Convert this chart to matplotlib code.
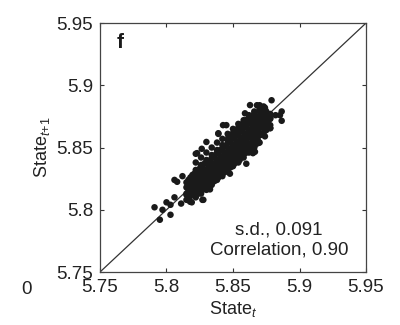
import matplotlib
matplotlib.use('Agg')
import matplotlib.pyplot as plt

plt.rcParams['font.family'] = ['Liberation Sans', 'DejaVu Sans']
plt.rcParams['mathtext.fontset'] = 'custom'
plt.rcParams['mathtext.it'] = 'Liberation Sans:italic'
plt.rcParams['mathtext.rm'] = 'Liberation Sans'

# outlying points
edge_x = [5.791, 5.795, 5.797, 5.803, 5.803, 5.808, 5.812, 5.819, 5.827, 5.822,
          5.8265, 5.839, 5.845, 5.859, 5.868, 5.879, 5.8866, 5.8866, 5.878, 5.8665,
          5.860, 5.8477, 5.8327, 5.815, 5.800, 5.806, 5.811, 5.873, 5.882, 5.876,
          5.8628, 5.8853, 5.878, 5.878, 5.869, 5.865, 5.855, 5.839, 5.830, 5.823,
          5.8277, 5.8177, 5.806, 5.8425, 5.870]
edge_y = [5.802, 5.792, 5.800, 5.796, 5.804, 5.8225, 5.827, 5.806, 5.808, 5.845,
          5.849, 5.861, 5.868, 5.8775, 5.884, 5.888, 5.879, 5.8715, 5.8655, 5.8466,
          5.837, 5.829, 5.8164, 5.813, 5.806, 5.810, 5.805, 5.883, 5.876, 5.870,
          5.8841, 5.876, 5.8737, 5.8657, 5.8536, 5.8455, 5.840, 5.8615, 5.8545, 5.8455,
          5.808, 5.8065, 5.824, 5.868, 5.884]

# dense core, column by column
core_x = [5.815, 5.815, 5.815, 5.815,
          5.818, 5.818, 5.818, 5.818,
          5.821, 5.821, 5.821, 5.821, 5.821,
          5.824, 5.824, 5.824, 5.824, 5.824,
          5.827, 5.827, 5.827, 5.827, 5.827,
          5.830, 5.830, 5.830, 5.830, 5.830,
          5.833, 5.833, 5.833, 5.833, 5.833,
          5.836, 5.836, 5.836, 5.836, 5.836,
          5.839, 5.839, 5.839, 5.839, 5.839,
          5.842, 5.842, 5.842, 5.842, 5.842,
          5.845, 5.845, 5.845, 5.845, 5.845,
          5.848, 5.848, 5.848, 5.848, 5.848, 5.848,
          5.851, 5.851, 5.851, 5.851, 5.851, 5.851,
          5.854, 5.854, 5.854, 5.854, 5.854, 5.854,
          5.857, 5.857, 5.857, 5.857, 5.857, 5.857,
          5.860, 5.860, 5.860, 5.860, 5.860, 5.860,
          5.863, 5.863, 5.863, 5.863, 5.863, 5.863,
          5.866, 5.866, 5.866, 5.866, 5.866, 5.866,
          5.869, 5.869, 5.869, 5.869, 5.869,
          5.872, 5.872, 5.872, 5.872,
          5.875, 5.875, 5.875, 5.875,
          5.878, 5.878, 5.878]
core_y = [5.812, 5.818, 5.822, 5.808,
          5.815, 5.820, 5.826, 5.811,
          5.813, 5.819, 5.824, 5.829, 5.816,
          5.817, 5.822, 5.827, 5.832, 5.813,
          5.820, 5.825, 5.830, 5.835, 5.816,
          5.822, 5.827, 5.832, 5.838, 5.818,
          5.825, 5.830, 5.835, 5.840, 5.820,
          5.827, 5.832, 5.837, 5.843, 5.823,
          5.830, 5.835, 5.840, 5.846, 5.826,
          5.833, 5.838, 5.843, 5.849, 5.829,
          5.836, 5.841, 5.846, 5.852, 5.831,
          5.839, 5.844, 5.849, 5.855, 5.834, 5.860,
          5.842, 5.847, 5.852, 5.858, 5.837, 5.862,
          5.845, 5.850, 5.855, 5.861, 5.840, 5.866,
          5.848, 5.853, 5.858, 5.864, 5.843, 5.869,
          5.851, 5.856, 5.861, 5.867, 5.846, 5.872,
          5.853, 5.859, 5.864, 5.870, 5.849, 5.874,
          5.856, 5.862, 5.867, 5.872, 5.851, 5.877,
          5.859, 5.865, 5.870, 5.875, 5.855,
          5.861, 5.867, 5.872, 5.877,
          5.864, 5.870, 5.875, 5.879,
          5.868, 5.873, 5.877]

# second, staggered set of core points filling the gaps
fill_x = [5.8165, 5.8165, 5.8165, 5.8165,
          5.8195, 5.8195, 5.8195, 5.8195,
          5.8225, 5.8225, 5.8225, 5.8225,
          5.8255, 5.8255, 5.8255, 5.8255,
          5.8285, 5.8285, 5.8285, 5.8285, 5.8285,
          5.8315, 5.8315, 5.8315, 5.8315, 5.8315,
          5.8345, 5.8345, 5.8345, 5.8345, 5.8345,
          5.8375, 5.8375, 5.8375, 5.8375, 5.8375,
          5.8405, 5.8405, 5.8405, 5.8405, 5.8405,
          5.8435, 5.8435, 5.8435, 5.8435, 5.8435,
          5.8465, 5.8465, 5.8465, 5.8465, 5.8465, 5.8465,
          5.8495, 5.8495, 5.8495, 5.8495, 5.8495, 5.8495,
          5.8525, 5.8525, 5.8525, 5.8525, 5.8525, 5.8525,
          5.8555, 5.8555, 5.8555, 5.8555, 5.8555, 5.8555,
          5.8585, 5.8585, 5.8585, 5.8585, 5.8585, 5.8585,
          5.8615, 5.8615, 5.8615, 5.8615, 5.8615, 5.8615,
          5.8645, 5.8645, 5.8645, 5.8645, 5.8645, 5.8645,
          5.8675, 5.8675, 5.8675, 5.8675, 5.8675,
          5.8705, 5.8705, 5.8705, 5.8705,
          5.8735, 5.8735, 5.8735, 5.8735,
          5.8765, 5.8765, 5.8765]
fill_y = [5.810, 5.815, 5.820, 5.824,
          5.812, 5.817, 5.822, 5.828,
          5.815, 5.821, 5.826, 5.831,
          5.818, 5.823, 5.829, 5.834,
          5.821, 5.826, 5.831, 5.837, 5.817,
          5.824, 5.829, 5.834, 5.839, 5.820,
          5.826, 5.831, 5.837, 5.842, 5.822,
          5.829, 5.834, 5.839, 5.845, 5.825,
          5.832, 5.837, 5.842, 5.848, 5.828,
          5.835, 5.840, 5.845, 5.851, 5.830,
          5.838, 5.843, 5.848, 5.854, 5.833, 5.858,
          5.840, 5.845, 5.851, 5.857, 5.836, 5.861,
          5.843, 5.849, 5.854, 5.860, 5.839, 5.864,
          5.846, 5.852, 5.857, 5.863, 5.842, 5.867,
          5.849, 5.855, 5.860, 5.866, 5.845, 5.870,
          5.852, 5.858, 5.863, 5.869, 5.848, 5.873,
          5.855, 5.861, 5.866, 5.871, 5.850, 5.875,
          5.858, 5.864, 5.869, 5.874, 5.853,
          5.860, 5.866, 5.871, 5.876,
          5.863, 5.869, 5.874, 5.878,
          5.866, 5.872, 5.876]

# points along the upper and lower rims of the cloud
rim_x = [5.822, 5.826, 5.830, 5.834, 5.838, 5.842, 5.846, 5.850, 5.854, 5.858,
         5.862, 5.866, 5.870, 5.874,
         5.822, 5.826, 5.830, 5.834, 5.838, 5.842, 5.846, 5.850, 5.854, 5.858,
         5.862, 5.866, 5.870, 5.874,
         5.822, 5.826, 5.830, 5.834, 5.838, 5.842, 5.846, 5.850, 5.854, 5.858,
         5.862, 5.866, 5.870, 5.874,
         5.822, 5.826, 5.830, 5.834, 5.838, 5.842, 5.846, 5.850, 5.854, 5.858,
         5.862, 5.866, 5.870, 5.874]
rim_y = [5.838, 5.842, 5.846, 5.850, 5.854, 5.857, 5.861, 5.865, 5.869, 5.872,
         5.876, 5.879, 5.881, 5.882,
         5.832, 5.836, 5.840, 5.844, 5.848, 5.852, 5.856, 5.860, 5.864, 5.868,
         5.872, 5.876, 5.879, 5.881,
         5.810, 5.813, 5.816, 5.820, 5.824, 5.827, 5.831, 5.835, 5.838, 5.842,
         5.846, 5.850, 5.854, 5.859,
         5.813, 5.817, 5.821, 5.825, 5.829, 5.833, 5.837, 5.841, 5.845, 5.849,
         5.853, 5.857, 5.861, 5.865]

ticks = [5.75, 5.8, 5.85, 5.9, 5.95]
tick_labels = ['5.75', '5.8', '5.85', '5.9', '5.95']

fig = plt.figure(figsize=(4, 3.25), dpi=100)
ax = fig.add_axes([0.25, 0.163, 0.665, 0.766])

ax.plot([5.75, 5.95], [5.75, 5.95], color='#333333', lw=0.9, zorder=1)
ax.scatter(core_x + fill_x + rim_x + edge_x, core_y + fill_y + rim_y + edge_y,
           s=22, color='#1a1a1a', edgecolors='none', zorder=2)

ax.set_xlim(5.75, 5.95)
ax.set_ylim(5.75, 5.95)
ax.set_xticks(ticks)
ax.set_xticklabels(tick_labels)
ax.set_yticks(ticks)
ax.set_yticklabels(tick_labels)
ax.tick_params(direction='in', length=3, width=0.8, labelsize=13.5,
               top=True, right=True, pad=5, colors='#333333', labelcolor='#222222')
for sp in ax.spines.values():
    sp.set_color('#444444')
    sp.set_linewidth(0.9)

ax.set_xlabel('State$_{\\mathit{t}}$', fontsize=13, color='#222222', labelpad=2)
ax.set_ylabel('State$_{\\mathit{t}\\mathrm{+1}}$', fontsize=13, color='#222222', labelpad=3)

ax.text(0.064, 0.96, 'f', transform=ax.transAxes, fontsize=15, fontweight='bold',
        va='top', ha='left', color='#1a1a1a')
ax.text(0.673, 0.169, 's.d., 0.091', transform=ax.transAxes, fontsize=13.5,
        ha='center', va='center', color='#222222')
ax.text(0.673, 0.088, 'Correlation, 0.90', transform=ax.transAxes, fontsize=13.5,
        ha='center', va='center', color='#222222')

fig.text(0.08, 0.108, '0', fontsize=13.5, ha='right', va='center', color='#222222')

fig.savefig('out.png', dpi=100)
